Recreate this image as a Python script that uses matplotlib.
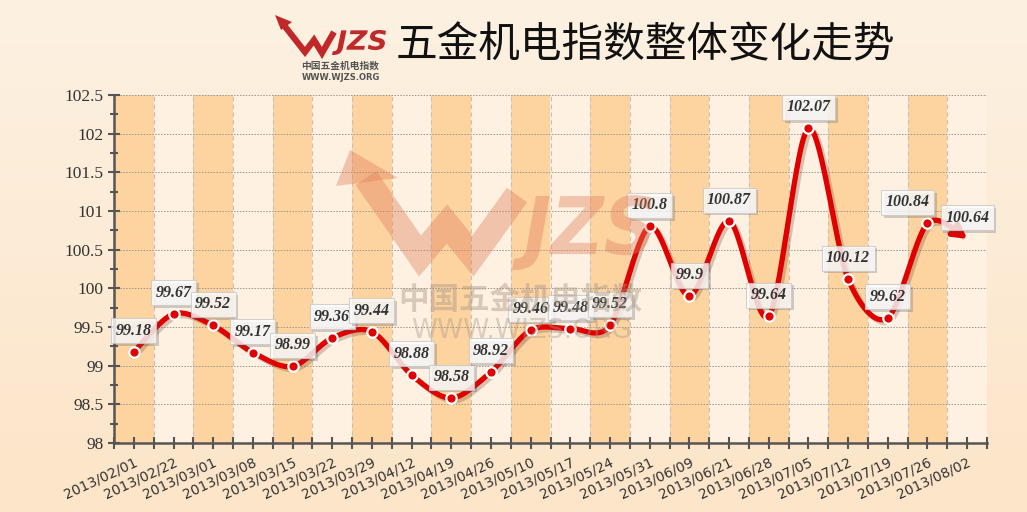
import numpy as np
import matplotlib
matplotlib.use('Agg')
import matplotlib.pyplot as plt
from matplotlib import patheffects as pe
from matplotlib.patches import Polygon, PathPatch
from matplotlib.textpath import TextPath
from matplotlib.font_manager import FontProperties
from matplotlib.transforms import Affine2D

dates = ['2013/02/01', '2013/02/22', '2013/03/01', '2013/03/08', '2013/03/15',
         '2013/03/22', '2013/03/29', '2013/04/12', '2013/04/19', '2013/04/26',
         '2013/05/10', '2013/05/17', '2013/05/24', '2013/05/31', '2013/06/09',
         '2013/06/21', '2013/06/28', '2013/07/05', '2013/07/12', '2013/07/19',
         '2013/07/26', '2013/08/02']
values = [99.18, 99.67, 99.52, 99.17, 98.99, 99.36, 99.44, 98.88, 98.58, 98.92,
          99.46, 99.48, 99.52, 100.8, 99.9, 100.87, 99.64, 102.07, 100.12, 99.62,
          100.84, 100.64]
label_shift = {20: -20}   # label pushed left to avoid the next one

title = '五金机电指数整体变化走势'

W, H = 1027, 512
fig = plt.figure(figsize=(W / 100, H / 100), dpi=100)

# background gradient
bg = fig.add_axes([0, 0, 1, 1], zorder=-10)
grad = np.linspace(0, 1, 256).reshape(-1, 1)
top = np.array([253, 241, 226]) / 255
bot = np.array([252, 229, 200]) / 255
img = top + (bot - top) * grad[..., None]
bg.imshow(img.reshape(256, 1, 3), aspect='auto', extent=[0, 1, 0, 1])
bg.axis('off')

ax = fig.add_axes([114 / W, 69 / H, 873 / W, 348 / H])
ax.set_facecolor('none')
n = len(values)
x = np.arange(n)

for i in range(n):
    ax.axvspan(i - 0.5, i + 0.5, color='#FDD3A0' if i % 2 == 0 else '#FEF1E1', lw=0, zorder=0)
for i in range(n + 1):
    ax.axvline(i - 0.5, color='#c8c0b8', lw=0.8, ls=(0, (4, 3)), zorder=1)
for yv in np.arange(98, 102.51, 0.5):
    ax.axhline(yv, color='#9a9590', lw=0.7, ls=(0, (1.5, 1.5)), zorder=1)

ax.set_xlim(-0.5, n - 0.5)
ax.set_ylim(98, 102.5)

# smooth curve through the data points (cardinal spline)
pts = np.column_stack([x, values]).astype(float)
ext = np.vstack([pts[0], pts, pts[-1]])
cx, cy = [], []
tens = 0.45
for k in range(n - 1):
    p0, p1, p2, p3 = ext[k], ext[k + 1], ext[k + 2], ext[k + 3]
    m1 = tens * (p2 - p0)
    m2 = tens * (p3 - p1)
    t = np.linspace(0, 1, 30)[:, None]
    h00 = 2 * t ** 3 - 3 * t ** 2 + 1
    h10 = t ** 3 - 2 * t ** 2 + t
    h01 = -2 * t ** 3 + 3 * t ** 2
    h11 = t ** 3 - t ** 2
    seg = h00 * p1 + h10 * m1 + h01 * p2 + h11 * m2
    cx.extend(seg[:, 0]); cy.extend(seg[:, 1])
cx = np.array(cx); cy = np.array(cy)

red = '#E00000'
stop = len(cx) - 7
ax.plot(cx[:stop], cy[:stop], color=red, lw=3.8, solid_capstyle='round', zorder=4,
        path_effects=[pe.SimpleLineShadow(offset=(2, -2), alpha=0.25, shadow_color='#603020'), pe.Normal()])
ax.annotate('', xy=(cx[-1], cy[-1]), xytext=(cx[stop - 2], cy[stop - 2]),
            arrowprops=dict(arrowstyle='-|>,head_length=0.8,head_width=0.45', color=red, lw=3.8,
                            shrinkA=0, shrinkB=0), zorder=4)
ax.plot(x[:-1], values[:-1], 'o', ms=7.5, mfc=red, mec='white', mew=1.6, zorder=5)

for i, v in enumerate(values):
    a = ax.annotate(f'{v:g}', (i, v), xytext=(label_shift.get(i, 0), 21), textcoords='offset pixels',
                    ha='center', va='center', fontsize=11.5, color='#333333',
                    family='Liberation Serif', fontweight='bold', fontstyle='italic', zorder=6,
                    bbox=dict(boxstyle='square,pad=0.28', fc='white', ec='#c8c8c8', lw=0.8, alpha=0.8))
    a.get_bbox_patch().set_path_effects([pe.SimplePatchShadow(offset=(2, -2), alpha=0.25), pe.Normal()])

ax.set_xticks(x)
ax.set_xticklabels(dates, rotation=25, ha='right', va='top', rotation_mode='anchor',
                   fontsize=10, color='#333333')
ax.set_xticks(np.arange(n + 1) - 0.5, minor=True)
ax.set_yticks(np.arange(98, 102.51, 0.5))
ax.set_yticklabels([f'{t:g}' for t in np.arange(98, 102.51, 0.5)], family='Liberation Serif',
                   fontsize=12.5, color='#333333')
ax.set_yticks(np.arange(98, 102.51, 0.25), minor=True)
ax.tick_params(axis='both', which='both', direction='inout', color='#555555', width=1.5)
ax.tick_params(axis='x', which='both', length=8, pad=5)
ax.tick_params(axis='y', which='major', length=9, pad=3)
ax.tick_params(axis='y', which='minor', length=6)
for s in ['top', 'right']:
    ax.spines[s].set_visible(False)
for s in ['left', 'bottom']:
    ax.spines[s].set_color('#555555')
    ax.spines[s].set_linewidth(1.8)

# watermark / logo layer in pixel coordinates (y down)
wm = fig.add_axes([0, 0, 1, 1], zorder=3)
wm.set_xlim(0, W); wm.set_ylim(H, 0); wm.axis('off')
logo_font = FontProperties(family='DejaVu Sans', weight='bold', style='italic')


def squeezed_text(s, x0, x1, y0, y1, **kw):
    tp = TextPath((0, 0), s, size=100, prop=logo_font)
    e = tp.get_extents()
    tr = (Affine2D().translate(-e.x0, -e.y0)
          .scale((x1 - x0) / e.width, -(y1 - y0) / e.height)
          .translate(x0, y1))
    wm.add_patch(PathPatch(tr.transform_path(tp), lw=0, **kw))


wcol = '#E0805A'
wm.plot([366, 420, 447, 473, 517], [178, 256, 224, 256, 195], color=wcol, lw=18, alpha=0.4,
        solid_joinstyle='miter', solid_capstyle='butt')
wm.add_patch(Polygon([[350, 150], [398, 178], [336, 186]], closed=True, color=wcol, alpha=0.4, lw=0))
squeezed_text('JZS', 512, 652, 195, 270, color=wcol, alpha=0.4)
wm.text(520, 300, '中国五金机电指数', fontsize=22, fontweight='bold', color='#a89888', alpha=0.45,
        ha='center', va='center', family=['Noto Sans CJK SC', 'DejaVu Sans'])
wm.text(522, 331, 'WWW.WJZS.ORG', fontsize=19, color='#a89888', alpha=0.4,
        ha='center', va='center', family='DejaVu Sans')

# logo and title
lcol = '#C0282A'
wm.plot([283, 305, 314, 322, 334], [24, 52, 40, 53, 32], color=lcol, lw=4.5,
        solid_joinstyle='miter', solid_capstyle='butt')
wm.add_patch(Polygon([[275, 15], [292, 22], [281, 30]], closed=True, color=lcol, lw=0))
squeezed_text('JZS', 332, 386, 30, 55, color=lcol)
wm.text(340, 66, '中国五金机电指数', fontsize=7, fontweight='bold', color='#555555',
        ha='center', va='center', family=['Noto Sans CJK SC', 'DejaVu Sans'])
wm.text(341, 77, 'WWW.WJZS.ORG', fontsize=6, fontweight='bold', color='#555555',
        ha='center', va='center', family='DejaVu Sans')
wm.text(645, 46, title, fontsize=30, color='#111111', ha='center', va='center',
        family=['Noto Sans CJK SC', 'DejaVu Sans'])

fig.savefig('out.png', dpi=100)
